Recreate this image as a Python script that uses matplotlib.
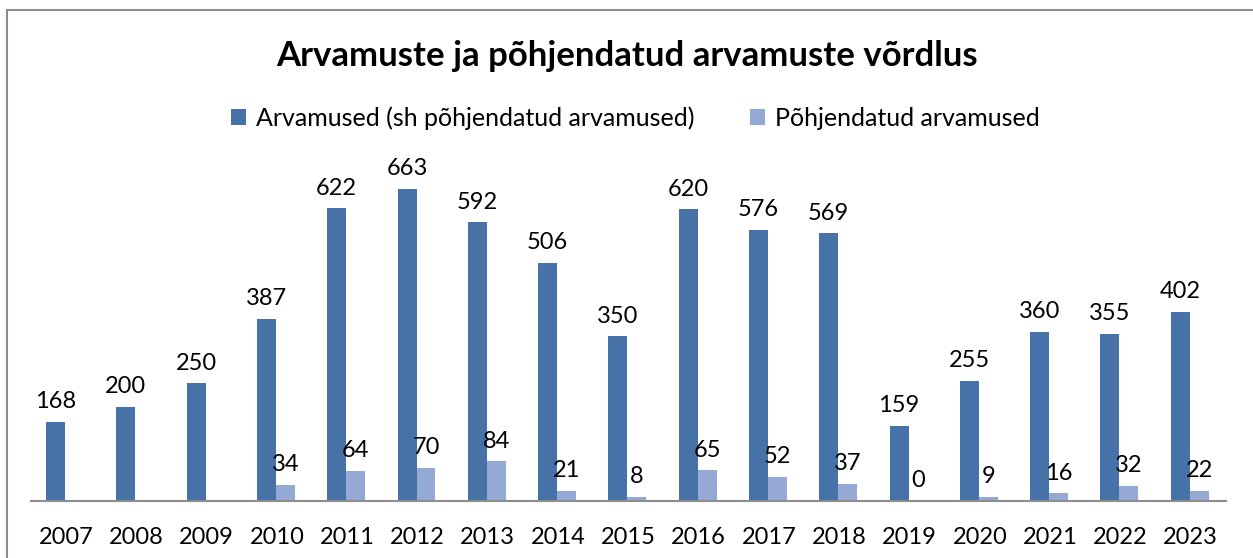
import matplotlib.pyplot as plt
import matplotlib.patches as mpatches
import numpy as np

years = ['2007', '2008', '2009', '2010', '2011', '2012', '2013', '2014', '2015',
         '2016', '2017', '2018', '2019', '2020', '2021', '2022', '2023']
arvamused = [168, 200, 250, 387, 622, 663, 592, 506, 350, 620, 576, 569, 159, 255, 360, 355, 402]
pohjendatud = [None, None, None, 34, 64, 70, 84, 21, 8, 65, 52, 37, 0, 9, 16, 32, 22]

dark = '#4672A8'
light = '#94AAD4'

plt.rcParams['font.family'] = ['Lato', 'DejaVu Sans']

fig = plt.figure(figsize=(12.53, 5.58), dpi=100)
ax = fig.add_axes([0.0247, 0.1022, 0.9537, 0.5903])

x = np.arange(len(years))
w = 0.27
p_vals = np.array([np.nan if v is None else v for v in pohjendatud], dtype=float)

b1 = ax.bar(x - w / 2 - 0.015, arvamused, w, color=dark, label='Arvamused (sh põhjendatud arvamused)')
b2 = ax.bar(x + w / 2 - 0.015, p_vals, w, color=light, label='Põhjendatud arvamused')

for rect, v in zip(b1, arvamused):
    ax.annotate(str(v), (rect.get_x() + rect.get_width() / 2, v), xytext=(0, 7),
                textcoords='offset points', ha='center', va='bottom', fontsize=17)
for rect, v in zip(b2, pohjendatud):
    if v is None:
        continue
    ax.annotate(str(v), (rect.get_x() + rect.get_width() / 2, v), xytext=(0, 7),
                textcoords='offset points', ha='center', va='bottom', fontsize=17)

ax.set_xlim(-0.5, len(years) - 0.5)
ax.set_ylim(0, 700)
ax.set_xticks(x)
ax.set_xticklabels(years, fontsize=17)
ax.tick_params(axis='x', length=0, pad=19)
ax.set_yticks([])
for s in ['top', 'right', 'left']:
    ax.spines[s].set_visible(False)
ax.spines['bottom'].set_color('#8c8c8c')
ax.spines['bottom'].set_linewidth(1.5)

fig.text(0.5, 0.90, 'Arvamuste ja põhjendatud arvamuste võrdlus', ha='center', va='center',
         fontsize=25, fontweight='bold')
fig.legend(handles=[b1, b2], loc='center', bbox_to_anchor=(0.507, 0.788), ncol=2, frameon=False,
           fontsize=18, handlelength=0.6, handleheight=0.6, columnspacing=2.2, handletextpad=0.4)

frame = mpatches.Rectangle((7 / 1253, -0.05), 1.2, (558 - 10) / 558 + 0.05, transform=fig.transFigure,
                           fill=False, edgecolor='#8c8c8c', linewidth=1.5)
fig.patches.append(frame)

fig.savefig('out.png', dpi=100)
